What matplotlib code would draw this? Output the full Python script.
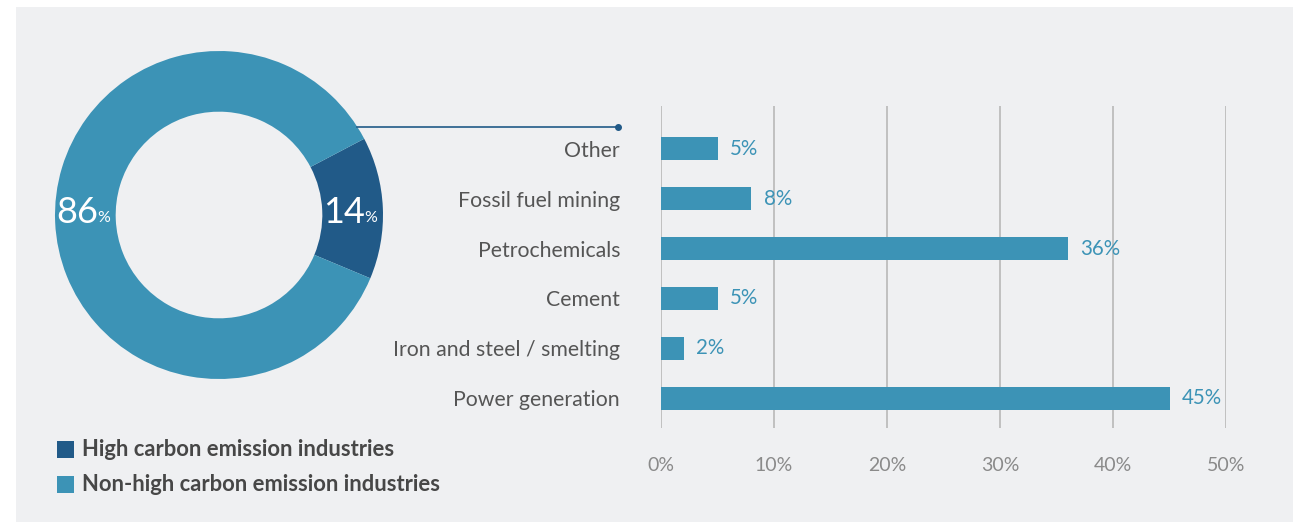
import matplotlib
matplotlib.use("Agg")
import matplotlib.pyplot as plt
from matplotlib.patches import Rectangle
from matplotlib.lines import Line2D

plt.rcParams['font.family'] = ['Lato', 'DejaVu Sans']

# ---- data ----
donut_labels = ["High carbon emission industries", "Non-high carbon emission industries"]
donut_values = [14, 86]
categories = ["Power generation", "Iron and steel / smelting", "Cement",
              "Petrochemicals", "Fossil fuel mining", "Other"]
shares = [45, 2, 5, 36, 8, 5]
xticks = [0, 10, 20, 30, 40, 50]
xtick_labels = ["0%", "10%", "20%", "30%", "40%", "50%"]

DARK = "#215a88"
LIGHT = "#3c93b6"
BG = "#eff0f2"
W, H = 1293, 522

fig = plt.figure(figsize=(W / 100, H / 100), dpi=100, facecolor="white")

def fx(x):
    return x / W

def fy(y):
    return 1 - y / H

# panel background
fig.patches.append(Rectangle((fx(16), 0), 1 - fx(16), fy(7), transform=fig.transFigure,
                             facecolor=BG, edgecolor="none", zorder=-5))

# ---- donut ----
cx, cy, R = 219, 215, 164
axd = fig.add_axes([fx(cx - R), fy(cy + R), 2 * R / W, 2 * R / H])
axd.set_facecolor("none")
wedges, _ = axd.pie(donut_values, colors=[DARK, LIGHT],
                    startangle=2.5 - 0.5 * 360 * donut_values[0] / 100,
                    counterclock=True, radius=1, wedgeprops=dict(width=0.37, edgecolor="none"))
axd.set_xlim(-1, 1)
axd.set_ylim(-1, 1)
axd.set_aspect("equal")
axd.axis("off")

# donut labels (big number + small percent sign)
for val, xleft in [(donut_values[1], 56), (donut_values[0], 323)]:
    t = axd.text(fx(xleft), fy(223), f"{val}", color="white", fontsize=26,
                 ha="left", va="baseline", transform=fig.transFigure)
    axd.annotate("%", xy=(1, 0), xycoords=t, xytext=(-0.8, 5.3), textcoords="offset points",
                 color="white", fontsize=11.5, ha="left", va="baseline", annotation_clip=False)

# connector line
fig.lines.append(Line2D([fx(357), fx(618)], [fy(127), fy(127)], transform=fig.transFigure,
                        color=DARK, lw=1.2))
fig.lines.append(Line2D([fx(618)], [fy(127)], transform=fig.transFigure, marker="o",
                        markersize=4, color=DARK, lw=0))

# legend
for i, (lab, col) in enumerate(zip(donut_labels, [DARK, LIGHT])):
    ytop = 441 + 35 * i
    fig.patches.append(Rectangle((fx(57), fy(ytop + 17)), 17 / W, 17 / H, transform=fig.transFigure,
                                 facecolor=col, edgecolor="none"))
    fig.text(fx(82), fy(ytop + 8.5), lab, color="#474747", fontsize=15.8, fontweight="bold",
             ha="left", va="center")

# ---- bar chart ----
x0, x50 = 661, 1226
ytop_px, ybot_px = 106, 428
axb = fig.add_axes([fx(x0), fy(ybot_px), (x50 - x0) / W, (ybot_px - ytop_px) / H])
axb.set_facecolor("none")
ypos = list(range(len(categories)))
axb.barh(ypos, shares, height=0.46, color=LIGHT, zorder=3)
axb.set_xlim(0, 50)
axb.set_ylim(-0.6, 5.86)
axb.set_xticks(xticks)
axb.set_xticklabels(xtick_labels)
axb.set_yticks(ypos)
axb.set_yticklabels(categories)
axb.tick_params(axis="x", length=0, pad=21, labelsize=14, labelcolor="#8a8a8a")
axb.tick_params(axis="y", length=0, pad=29.5, labelsize=15.3, labelcolor="#555555")
axb.grid(axis="x", color="#b3b3b3", lw=1.1, zorder=0)
for s in axb.spines.values():
    s.set_visible(False)
for y, v in zip(ypos, shares):
    axb.text(v + 1.1, y, f"{v}%", color=LIGHT, fontsize=14.8, ha="left", va="center")

fig.savefig("out.png", dpi=100, facecolor="white")
